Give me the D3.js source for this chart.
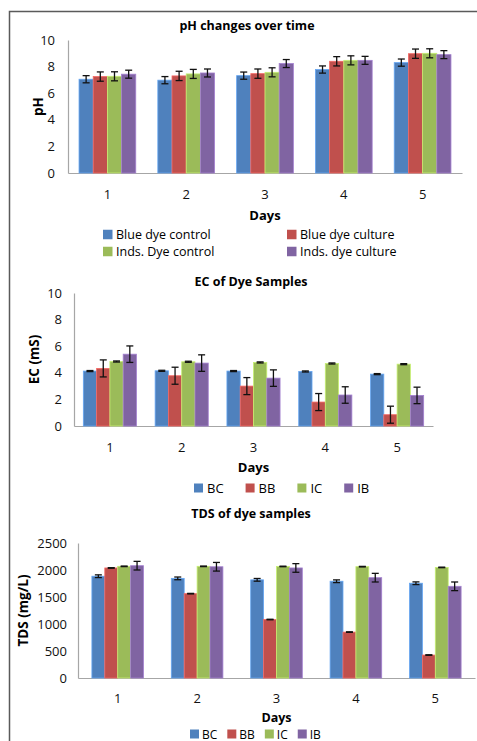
<!DOCTYPE html>
<html>
<head>
<meta charset="utf-8">
<script src="https://cdn.jsdelivr.net/npm/d3@7/dist/d3.min.js"></script>
<style>
  html, body { margin: 0; padding: 0; background: #fff; }
  svg { display: block; font-family: "Open Sans", sans-serif; }
</style>
</head>
<body>
<div id="chart"></div>
<script>
const days = ['1', '2', '3', '4', '5'];
const colors = ['#4F81BD', '#C0504D', '#9BBB59', '#8064A2'];

// pH
const phNames = ['Blue dye control', 'Blue dye culture', 'Inds. Dye control', 'Inds. dye culture'];
const phBlueControl = [7.05, 6.98, 7.32, 7.78, 8.30];
const phBlueCulture = [7.25, 7.30, 7.47, 8.40, 8.97];
const phIndsControl = [7.27, 7.45, 7.57, 8.47, 9.00];
const phIndsCulture = [7.43, 7.52, 8.23, 8.47, 8.90];
const phErr = [0.27, 0.35, 0.34, 0.30];
const phTicks = [0, 2, 4, 6, 8, 10];

// EC
const shortNames = ['BC', 'BB', 'IC', 'IB'];
const ecBC = [4.13, 4.15, 4.13, 4.10, 3.90];
const ecBB = [4.33, 3.78, 3.00, 1.80, 0.85];
const ecIC = [4.85, 4.83, 4.78, 4.70, 4.65];
const ecIB = [5.40, 4.73, 3.60, 2.33, 2.30];
const ecErr = [0.04, 0.64, 0.04, 0.62];
const ecTicks = [0, 2, 4, 6, 8, 10];

// TDS
const tdsBC = [1885, 1845, 1818, 1792, 1755];
const tdsBB = [2038, 1562, 1083, 850, 425];
const tdsIC = [2068, 2068, 2066, 2062, 2048];
const tdsIB = [2080, 2060, 2038, 1858, 1698];
const tdsErr = [25, 5, 5, 80];
const tdsTicks = [0, 500, 1000, 1500, 2000, 2500];

const width = 477;
const height = 741;

const svg = d3.select('#chart').append('svg')
  .attr('width', width)
  .attr('height', height);

// outer frame (left + top edges)
svg.append('path')
  .attr('d', `M9.5,${height} V11.5 H${width}`)
  .attr('fill', 'none')
  .attr('stroke', '#5a5a5a')
  .attr('stroke-width', 1.5);

function drawPanel(p) {
  const x0 = d3.scaleBand().domain(days).range([p.left, p.right]);
  const groupW = x0.bandwidth() * p.fill;
  const x1 = d3.scaleBand().domain(d3.range(p.series.length))
    .range([(x0.bandwidth() - groupW) / 2, (x0.bandwidth() + groupW) / 2]);
  const y = d3.scaleLinear().domain([0, p.ticks[p.ticks.length - 1]]).range([p.bottom, p.top]);

  const g = svg.append('g');

  // title
  g.append('text')
    .attr('x', p.titleX).attr('y', p.titleY)
    .attr('text-anchor', 'middle').attr('dominant-baseline', 'central')
    .attr('font-size', 12.5).attr('font-weight', 'bold')
    .text(p.title);

  // y axis
  const yAxis = g.append('g')
    .attr('transform', `translate(${p.left},0)`)
    .call(d3.axisLeft(y).tickValues(p.ticks).tickFormat(d3.format('d'))
      .tickSize(0).tickPadding(p.tickGap));
  yAxis.select('.domain').attr('stroke', '#a6a6a6').attr('stroke-width', 1.2);
  yAxis.selectAll('text').attr('font-size', 13).attr('fill', '#111')
    .attr('font-family', '"Open Sans", sans-serif');

  // x axis
  const xAxis = g.append('g')
    .attr('transform', `translate(0,${p.bottom})`)
    .call(d3.axisBottom(x0).tickSize(0).tickPadding(0));
  xAxis.select('.domain').attr('stroke', '#a6a6a6').attr('stroke-width', 1.2);
  xAxis.selectAll('text').attr('font-size', 13).attr('fill', '#111')
    .attr('font-family', '"Open Sans", sans-serif')
    .attr('y', p.xTickY - p.bottom).attr('dy', '0.35em');

  // axis titles
  g.append('text')
    .attr('x', (p.left + p.right) / 2).attr('y', p.daysY)
    .attr('text-anchor', 'middle').attr('dominant-baseline', 'central')
    .attr('font-size', p.daysFont || 13).attr('font-weight', 'bold')
    .text('Days');
  g.append('text')
    .attr('transform', `translate(${p.yLabelX},${(p.top + p.bottom) / 2}) rotate(-90)`)
    .attr('text-anchor', 'middle').attr('dominant-baseline', 'central')
    .attr('font-size', 13.5).attr('font-weight', 'bold')
    .text(p.yLabel);

  // bars
  p.series.forEach((vals, si) => {
    const sg = g.append('g');
    sg.selectAll('rect').data(vals).join('rect')
      .attr('x', (d, i) => x0(days[i]) + x1(si))
      .attr('y', d => y(d))
      .attr('width', x1.bandwidth())
      .attr('height', d => p.bottom - y(d))
      .attr('fill', colors[si])
      .attr('stroke', d3.color(colors[si]).brighter(0.7))
      .attr('stroke-width', 0.8);

    const cap = 3.5;
    const eg = sg.selectAll('g.err').data(vals).join('g').attr('class', 'err')
      .attr('stroke', '#111').attr('stroke-width', 1.3);
    eg.each(function (d, i) {
      const cx = x0(days[i]) + x1(si) + x1.bandwidth() / 2;
      const lo = y(d - p.err[si]);
      const hi = y(d + p.err[si]);
      const e = d3.select(this);
      e.append('line').attr('x1', cx).attr('x2', cx).attr('y1', lo).attr('y2', hi);
      e.append('line').attr('x1', cx - cap).attr('x2', cx + cap).attr('y1', lo).attr('y2', lo);
      e.append('line').attr('x1', cx - cap).attr('x2', cx + cap).attr('y1', hi).attr('y2', hi);
    });
  });

  // legend
  const lg = g.append('g');
  let cx = p.legend.x;
  p.names.forEach((name, i) => {
    let lx, ly;
    if (p.legend.cols) {
      lx = p.legend.cols[i % 2];
      ly = p.legend.rows[Math.floor(i / 2)];
    } else {
      lx = cx;
      ly = p.legend.y;
    }
    const s = p.legend.size;
    lg.append('rect')
      .attr('x', lx).attr('y', ly - s / 2)
      .attr('width', s).attr('height', s)
      .attr('fill', colors[i]);
    const t = lg.append('text')
      .attr('x', lx + s + p.legend.pad).attr('y', ly)
      .attr('dominant-baseline', 'central')
      .attr('font-size', p.legend.font)
      .text(name);
    if (!p.legend.cols) {
      cx = lx + s + p.legend.pad + t.node().getComputedTextLength() + p.legend.gap;
    }
  });
}

drawPanel({
  title: 'pH changes over time', titleX: 247, titleY: 25,
  yLabel: 'pH', yLabelX: 38,
  left: 68, right: 462, top: 40, bottom: 173, fill: 0.72,
  ticks: phTicks, tickGap: 13, xTickY: 194, daysY: 215,
  series: [phBlueControl, phBlueCulture, phIndsControl, phIndsCulture],
  err: phErr, names: phNames,
  legend: { cols: [103, 287], rows: [234.5, 251.5], size: 9.5, pad: 3.5, font: 12.5 }
});

drawPanel({
  title: 'EC of Dye Samples', titleX: 251, titleY: 281,
  yLabel: 'EC (mS)', yLabelX: 34,
  left: 74, right: 433, top: 293, bottom: 426, fill: 0.74,
  ticks: ecTicks, tickGap: 12, xTickY: 447, daysY: 467,
  series: [ecBC, ecBB, ecIC, ecIB],
  err: ecErr, names: shortNames,
  legend: { x: 194, y: 488, size: 9, pad: 4, gap: 22, font: 13 }
});

drawPanel({
  title: 'TDS of dye samples', titleX: 251, titleY: 513,
  yLabel: 'TDS (mg/L)', yLabelX: 23,
  left: 78, right: 475, top: 543, bottom: 678, fill: 0.65,
  ticks: tdsTicks, tickGap: 11, xTickY: 698, daysY: 717, daysFont: 12.5,
  series: [tdsBC, tdsBB, tdsIC, tdsIB],
  err: tdsErr, names: shortNames,
  legend: { x: 190, y: 734, size: 9, pad: 3, gap: 10, font: 12 }
});
</script>
</body>
</html>
